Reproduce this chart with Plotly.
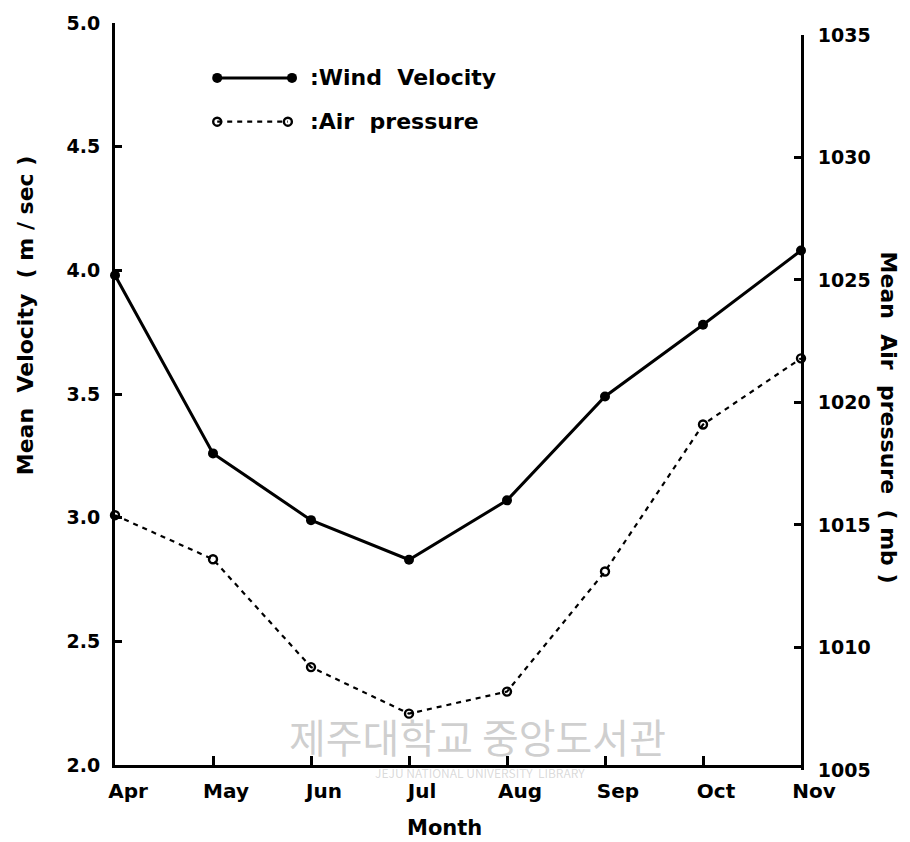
import plotly.graph_objects as go

months = ["Apr", "May", "Jun", "Jul", "Aug", "Sep", "Oct", "Nov"]
wind_velocity = [3.98, 3.26, 2.99, 2.83, 3.07, 3.49, 3.78, 4.08]
air_pressure = [1015.4, 1013.6, 1009.2, 1007.3, 1008.2, 1013.1, 1019.1, 1021.8]
left_ticks = [2.0, 2.5, 3.0, 3.5, 4.0, 4.5, 5.0]
right_ticks = [1005, 1010, 1015, 1020, 1025, 1030, 1035]

xs = list(range(len(months)))
FONT = "DejaVu Sans"

fig = go.Figure()
fig.add_trace(go.Scatter(
    x=xs, y=wind_velocity, mode="lines+markers", name="Wind Velocity",
    line=dict(color="black", width=3),
    marker=dict(symbol="circle", size=10, color="black"),
    cliponaxis=False, showlegend=False))
fig.add_trace(go.Scatter(
    x=xs, y=air_pressure, mode="lines+markers", name="Air pressure", yaxis="y2",
    line=dict(color="black", width=2.2, dash="5px,5px"),
    marker=dict(symbol="circle-open", size=8, color="black", line=dict(width=2.4)),
    cliponaxis=False, showlegend=False))

# legend samples drawn on hidden unit axes
fig.add_trace(go.Scatter(
    x=[0.149, 0.258], y=[0.926, 0.926], xaxis="x2", yaxis="y3", mode="lines+markers",
    line=dict(color="black", width=3), marker=dict(size=10, color="black"),
    showlegend=False, hoverinfo="skip"))
fig.add_trace(go.Scatter(
    x=[0.149, 0.252], y=[0.867, 0.867], xaxis="x2", yaxis="y3", mode="lines+markers",
    line=dict(color="black", width=2.2, dash="5px,5px"),
    marker=dict(symbol="circle-open", size=8, color="black", line=dict(width=2.4)),
    showlegend=False, hoverinfo="skip"))

axis_common = dict(showline=True, linecolor="black", linewidth=3, ticks="inside",
                   tickcolor="black", tickwidth=2.5, showgrid=False, zeroline=False)
tick_font = dict(family=FONT, size=19, color="black", weight="bold")

fig.update_layout(
    width=910, height=842,
    margin=dict(l=115, r=109, t=18, b=72),
    plot_bgcolor="rgba(0,0,0,0)", paper_bgcolor="white",
    xaxis=dict(range=[0, len(months) - 1], tickvals=xs, ticktext=months,
               ticklen=9, ticklabelshift=13, ticklabelstandoff=6,
               tickfont=dict(tick_font, size=20), anchor="y", **axis_common),
    yaxis=dict(range=[2.0, 5.0], domain=[0.00665, 1], tickvals=left_ticks,
               ticktext=[f"{v:.1f}" for v in left_ticks], ticklen=7,
               ticklabelstandoff=8, tickfont=tick_font, **axis_common),
    yaxis2=dict(range=[1005, 1035], domain=[0, 0.984], tickvals=right_ticks,
                anchor="x", side="right", ticklen=7, ticklabelstandoff=10,
                tickfont=tick_font, **axis_common),
    xaxis2=dict(range=[0, 1], overlaying="x", visible=False),
    yaxis3=dict(range=[0, 1], overlaying="y", visible=False),
)

ann = [
    dict(text=":Wind  Velocity", x=0.281, y=0.927, xanchor="left", yanchor="middle",
         font=dict(size=22)),
    dict(text=":Air  pressure", x=0.281, y=0.868, xanchor="left", yanchor="middle",
         font=dict(size=22)),
    dict(text="Mean  Velocity  ( m / sec )", x=-0.131, y=0.609, textangle=-90,
         xanchor="center", yanchor="middle", font=dict(size=22)),
    dict(text="Mean  Air  pressure  ( mb )", x=1.128, y=0.472, textangle=90,
         xanchor="center", yanchor="middle", font=dict(size=22)),
    dict(text="Month", x=0.480, y=-0.077, xanchor="center", yanchor="middle",
         font=dict(size=21)),
    dict(text="제주대학교 중앙도서관", x=0.529, y=0.045, xanchor="center", yanchor="middle",
         font=dict(family="Noto Sans CJK KR", size=40, color="rgba(160,160,160,0.5)",
                   weight="normal")),
    dict(text="JEJU NATIONAL UNIVERSITY  LIBRARY", x=0.532, y=-0.003, xanchor="center",
         yanchor="middle",
         font=dict(family="Noto Sans CJK KR", size=12, color="rgba(160,160,160,0.4)",
                   weight="normal")),
]
for a in ann:
    a.setdefault("xref", "paper")
    a.setdefault("yref", "paper")
    a["showarrow"] = False
    f = a["font"]
    f.setdefault("family", FONT)
    f.setdefault("color", "black")
    f.setdefault("weight", "bold")
fig.update_layout(annotations=ann)

fig.write_html("out.html")
